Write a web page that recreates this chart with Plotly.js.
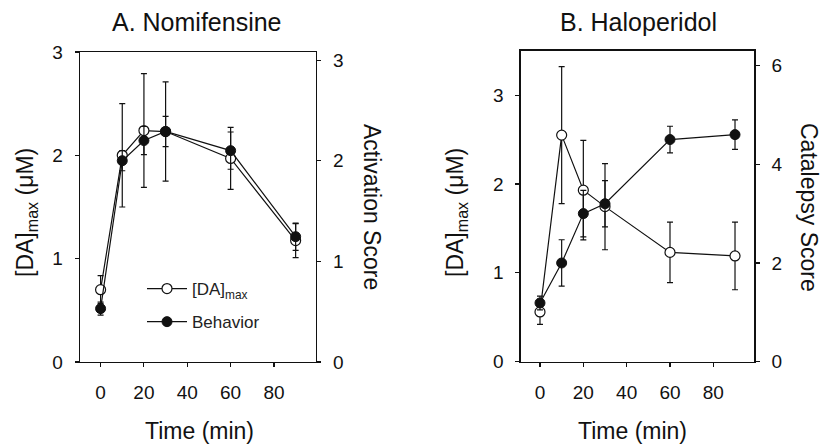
<!DOCTYPE html>
<html>
<head>
<meta charset="utf-8">
<script src="https://cdn.plot.ly/plotly-3.0.1.min.js"></script>
<style>html,body{margin:0;padding:0;background:#fff;}#chart{width:821px;height:444px;}</style>
</head>
<body>
<div id="chart"></div>
<script>
// ---- Data ----
const timeMin = [0, 10, 20, 30, 60, 90];

// A. Nomifensine
const nomDA = [0.70, 2.00, 2.24, 2.23, 1.97, 1.175];
const nomDAErr = [0.135, 0.50, 0.55, 0.48, 0.30, 0.165];
const nomBehavior = [0.53, 2.00, 2.20, 2.29, 2.10, 1.245];
const nomBehaviorErr = [0.065, 0.10, 0.14, 0.15, 0.185, 0.135];

// B. Haloperidol
const halDA = [0.56, 2.55, 1.93, 1.745, 1.23, 1.19];
const halDAErr = [0.14, 0.77, 0.56, 0.485, 0.34, 0.38];
const halBehavior = [1.19, 2.00, 3.00, 3.20, 4.50, 4.60];
const halBehaviorErr = [0.14, 0.47, 0.47, 0.47, 0.27, 0.30];

const xTicks = [0, 20, 40, 60, 80];
const leftTicksA = [0, 1, 2, 3];
const rightTicksA = [0, 1, 2, 3];
const leftTicksB = [0, 1, 2, 3];
const rightTicksB = [0, 2, 4, 6];

// ---- Styling ----
const W = 821, H = 444;
const FONT = 'Liberation Sans, Arial, Helvetica, sans-serif';
const INK = '#111';
const px = v => v / W;
const py = v => 1 - v / H;

const domA = [px(80), px(316)];
const domB = [px(520.7), px(754.3)];
const ydomA = [py(362), py(52)];
const ydomB = [py(361.7), py(50.7)];

function errObj(arr) {
  return {type: 'data', array: arr, visible: true, color: INK, thickness: 1.2, width: 3};
}
const lineStyle = {color: INK, width: 1.2};
const openMarker = {symbol: 'circle', size: 10, color: '#fff', line: {color: INK, width: 1.2}};
const filledMarker = {symbol: 'circle', size: 10, color: INK, line: {color: INK, width: 1}};

const traces = [
  {x: timeMin, y: nomDA, error_y: errObj(nomDAErr), xaxis: 'x', yaxis: 'y',
   mode: 'lines+markers', line: lineStyle, marker: openMarker,
   name: '[DA]<sub>max</sub>', legendgroup: 'g1', showlegend: true},
  {x: timeMin, y: nomBehavior, error_y: errObj(nomBehaviorErr), xaxis: 'x', yaxis: 'y2',
   mode: 'lines+markers', line: lineStyle, marker: filledMarker,
   name: 'Behavior', legendgroup: 'g2', showlegend: true},
  {x: timeMin, y: halDA, error_y: errObj(halDAErr), xaxis: 'x2', yaxis: 'y3',
   mode: 'lines+markers', line: lineStyle, marker: openMarker,
   name: '[DA]<sub>max</sub>', showlegend: false},
  {x: timeMin, y: halBehavior, error_y: errObj(halBehaviorErr), xaxis: 'x2', yaxis: 'y4',
   mode: 'lines+markers', line: lineStyle, marker: filledMarker,
   name: 'Behavior', showlegend: false}
];

const tickFont = {family: FONT, size: 19, color: INK};
function axBase(extra) {
  return Object.assign({
    showgrid: false, zeroline: false, showline: true, linecolor: INK, linewidth: 1.3,
    ticks: 'outside', ticklen: 4, tickwidth: 1.1, tickcolor: INK,
    tickfont: tickFont, tickmode: 'array', fixedrange: true
  }, extra);
}
function innerTicks(extra) {
  return Object.assign({
    showgrid: false, zeroline: false, showline: false, showticklabels: false,
    ticks: 'inside', ticklen: 3, tickwidth: 1.1, tickcolor: INK, tickmode: 'array', fixedrange: true
  }, extra);
}

const layout = {
  width: W, height: H,
  margin: {l: 0, r: 0, t: 0, b: 0},
  paper_bgcolor: '#fff', plot_bgcolor: 'rgba(0,0,0,0)',
  font: {family: FONT, color: INK},
  showlegend: true,
  legend: {x: px(142), y: py(271), xanchor: 'left', yanchor: 'top',
           bgcolor: 'rgba(0,0,0,0)', borderwidth: 0, traceorder: 'grouped',
           tracegroupgap: 8, itemwidth: 40,
           font: {family: FONT, size: 17, color: '#222'}},
  xaxis: axBase({domain: domA, range: [-9.5, 99.4], anchor: 'y', tickvals: xTicks, mirror: true, ticklabelstandoff: 9}),
  yaxis: axBase({domain: ydomA, range: [0, 3], anchor: 'x', tickvals: leftTicksA, ticklabelstandoff: 8}),
  yaxis2: axBase({domain: ydomA, range: [0, 3.08], anchor: 'x', overlaying: 'y', side: 'right', tickvals: rightTicksA, ticklabelstandoff: 8}),
  xaxis2: axBase({domain: domB, range: [-8.9, 98.9], anchor: 'y3', tickvals: xTicks, mirror: true, ticklabelstandoff: 9}),
  yaxis3: axBase({domain: ydomB, range: [0, 3.5], anchor: 'x2', tickvals: leftTicksB, ticklabelstandoff: 8}),
  yaxis4: axBase({domain: ydomB, range: [0, 6.3], anchor: 'x2', overlaying: 'y3', side: 'right', tickvals: rightTicksB, ticklabelstandoff: 8}),
  // inner halves of the crossing ticks
  xaxis3: innerTicks({domain: domA, range: [-9.5, 99.4], anchor: 'y', overlaying: 'x', tickvals: xTicks}),
  xaxis4: innerTicks({domain: domB, range: [-8.9, 98.9], anchor: 'y3', overlaying: 'x2', tickvals: xTicks}),
  yaxis5: innerTicks({domain: ydomA, range: [0, 3], anchor: 'x', overlaying: 'y', tickvals: leftTicksA}),
  yaxis6: innerTicks({domain: ydomA, range: [0, 3.08], anchor: 'x', overlaying: 'y', side: 'right', tickvals: rightTicksA}),
  yaxis7: innerTicks({domain: ydomB, range: [0, 3.5], anchor: 'x2', overlaying: 'y3', tickvals: leftTicksB}),
  yaxis8: innerTicks({domain: ydomB, range: [0, 6.3], anchor: 'x2', overlaying: 'y3', side: 'right', tickvals: rightTicksB}),
  annotations: [
    {text: 'A. Nomifensine', x: px(197), y: py(22), font: {size: 25}},
    {text: 'B. Haloperidol', x: px(638), y: py(22), font: {size: 25}},
    {text: 'Time (min)', x: px(199), y: py(431), font: {size: 23}},
    {text: 'Time (min)', x: px(632), y: py(431), font: {size: 23}},
    {text: '[DA]<sub>max</sub> (μM)', x: px(26), y: py(213), textangle: -90, font: {size: 23}},
    {text: '[DA]<sub>max</sub> (μM)', x: px(456), y: py(213), textangle: -90, font: {size: 23}},
    {text: 'Activation Score', x: px(372), y: py(207), textangle: 90, font: {size: 23}},
    {text: 'Catalepsy Score', x: px(809), y: py(207), textangle: 90, font: {size: 23}}
  ].map(a => Object.assign({xref: 'paper', yref: 'paper', xanchor: 'center', yanchor: 'middle',
                            showarrow: false}, a, {font: Object.assign({family: FONT, color: INK}, a.font)}))
};

Plotly.newPlot('chart', traces, layout, {displayModeBar: false, staticPlot: true});
</script>
</body>
</html>
